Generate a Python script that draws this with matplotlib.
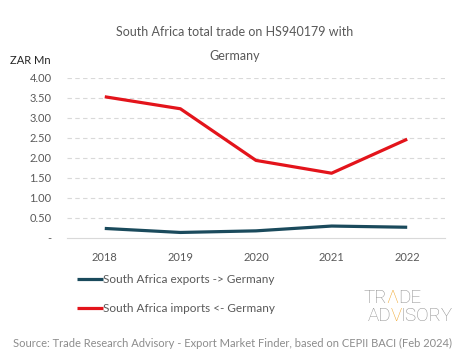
import matplotlib
matplotlib.use("Agg")
import matplotlib.pyplot as plt
from matplotlib.ticker import FixedLocator

plt.rcParams['font.family'] = ['Lato', 'DejaVu Sans']

years = ["2018", "2019", "2020", "2021", "2022"]
exports = [0.23, 0.13, 0.17, 0.29, 0.26]
imports = [3.52, 3.22, 1.93, 1.61, 2.46]
yticks = [0, 0.5, 1.0, 1.5, 2.0, 2.5, 3.0, 3.5, 4.0]
ytick_labels = ["-", "0.50", "1.00", "1.50", "2.00", "2.50", "3.00", "3.50", "4.00"]

title = "South Africa total trade on HS940179 with\n\nGermany"
label_exp = "South Africa exports -> Germany"
label_imp = "South Africa imports <- Germany"
source = "Source: Trade Research Advisory - Export Market Finder, based on CEPII BACI (Feb 2024)"

BLUE = "#1a4a5c"
RED = "#e3141b"
TXT = "#595959"
GRID = "#d9d9d9"

fig = plt.figure(figsize=(4.65, 3.59), dpi=100)
ax = fig.add_axes([0.144, 0.338, 0.813, 0.446])
x = list(range(len(years)))
l1, = ax.plot(x, exports, color=BLUE, lw=2.3, solid_capstyle='butt', label=label_exp, zorder=3)
l2, = ax.plot(x, imports, color=RED, lw=2.3, solid_capstyle='butt', label=label_imp, zorder=3)

ax.set_xlim(-0.5, 4.5)
ax.set_ylim(0, 4.0)
ax.set_xticks(x)
ax.set_xticklabels(years)
ax.yaxis.set_major_locator(FixedLocator(yticks))
ax.set_yticklabels(ytick_labels)
for s in ["top", "right", "left"]:
    ax.spines[s].set_visible(False)
ax.spines["bottom"].set_color(GRID)
ax.spines["bottom"].set_linewidth(0.8)
ax.tick_params(axis='both', length=0, labelsize=8, colors=TXT)
ax.tick_params(axis='y', pad=11)
ax.tick_params(axis='x', pad=10)
for yv in yticks[1:]:
    ax.axhline(yv, color=GRID, lw=0.8, ls=(0, (4, 3)), zorder=1)

fig.text(0.505, 0.877, title, ha='center', va='center', fontsize=9, color=TXT, linespacing=1.0)
fig.text(0.022, 0.832, "ZAR Mn", ha='left', va='center', fontsize=8, color="#262626")

leg = fig.legend(handles=[l1, l2], loc='upper left', bbox_to_anchor=(0.155, 0.25),
                 frameon=False, fontsize=8.5, labelcolor=TXT, handlelength=2.2, handletextpad=0.05,
                 labelspacing=1.5, borderaxespad=0)

fig.text(0.5, 0.042, source, ha='center', va='center', fontsize=8, color="#8c8c8c")

# logo
LG = "#8f8f8f"
OR = "#f0a830"
def logo_row(parts, xs, y, size):
    fx = xs
    r = fig.canvas.get_renderer()
    for txt, col in parts:
        t = fig.text(fx, y, txt, ha='left', va='center', fontsize=size, color=col,
                     fontfamily=['Roboto', 'DejaVu Sans'], fontweight='light')
        bb = t.get_window_extent(renderer=r)
        fx += bb.width / fig.bbox.width * 0.97
logo_row([("TR", LG), ("Λ", OR), ("DE", LG)], 0.782, 0.170, 13.5)
logo_row([("AD", LG), ("V", OR), ("ISORY", LG)], 0.790, 0.121, 13.5)

fig.savefig("out.png", dpi=100, facecolor="white")
